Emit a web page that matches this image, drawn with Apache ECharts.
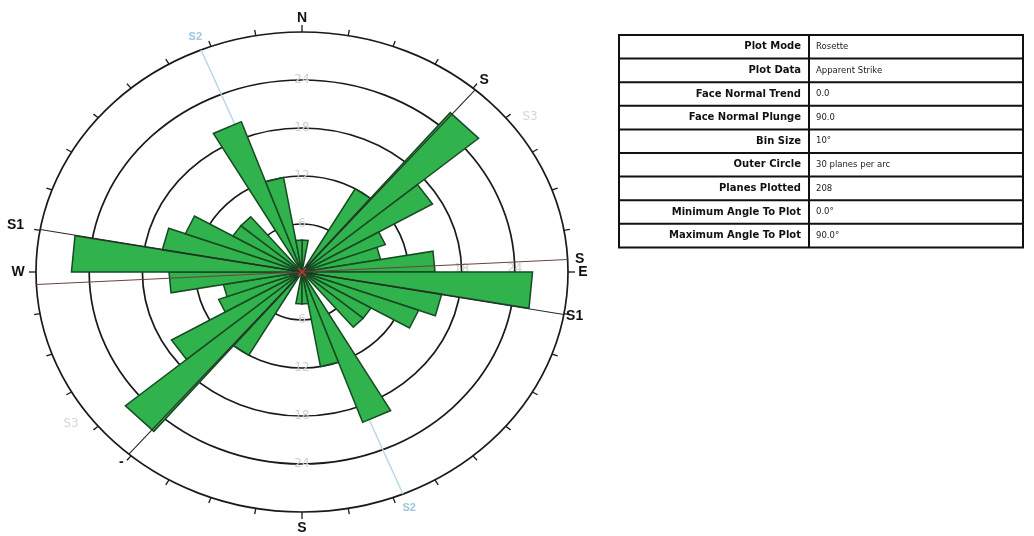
<!DOCTYPE html>
<html>
<head>
<meta charset="utf-8">
<script src="https://cdn.jsdelivr.net/npm/echarts@6/dist/echarts.min.js"></script>
<style>
  html, body { margin: 0; padding: 0; background: #ffffff; }
  #chart { width: 1034px; height: 536px; }
</style>
</head>
<body>
<div id="chart"></div>
<script>
// Rosette of apparent strike, 10° bins (each bin is mirrored 180° away)
const binStarts = [0, 10, 20, 30, 40, 50, 60, 70, 80, 90, 100, 110, 120, 130, 140, 150, 160, 170];
const binCounts = [4, 0, 0, 12, 26, 17, 10, 9, 15, 26, 16, 14, 9, 9, 0, 20, 12, 4];
const binSize = 10;

// Concentric rings (planes per arc) and the outer circle
const ringValues = [6, 12, 18, 24];
const ringLabels = ['6', '12', '18', '24'];
const outerValue = 30;

// Compass labels
const compassBearings = [0, 90, 180, 270];
const compassLabels = ['N', 'E', 'S', 'W'];

// Set traces through the centre: bearing, label at each end
const setBearings = [100.2, 87, 40.6, 337.7];
const setEndLabels = [['S1', 'S1'], ['S', ''], ['S', '-'], ['S2', 'S2']];

// Faint set names
const faintSetNames = ['S3', 'S3'];
const faintSetBearings = [53, 234];
const faintSetRadius = 32.2;

// Parameters table
const tableLabels = ['Plot Mode', 'Plot Data', 'Face Normal Trend', 'Face Normal Plunge', 'Bin Size',
  'Outer Circle', 'Planes Plotted', 'Minimum Angle To Plot', 'Maximum Angle To Plot'];
const tableValues = ['Rosette', 'Apparent Strike', '0.0', '90.0', '10°',
  '30 planes per arc', '208', '0.0°', '90.0°'];

// styling of the set traces and their end labels (pixel gap beyond the circle)
const setColors = ['#2a2a2a', '#6e4040', '#2a2a2a', '#b4d6e6'];
const setLabelColors = ['#111111', '#111111', '#111111', '#9cc8de'];
const setLabelGap = [[11, 25], [12, 0], [13, 11], [14, 15]];

// bearing (clockwise from north) + radius -> x/y data coordinates
function polar(r, bearing) {
  const a = bearing * Math.PI / 180;
  return [r * Math.sin(a), r * Math.cos(a)];
}

const wedgeData = [];
binStarts.forEach((b, i) => {
  wedgeData.push([b, binCounts[i]]);
  wedgeData.push([b + 180, binCounts[i]]);
});

const tickData = [];
for (let b = 0; b < 360; b += 10) tickData.push([b]);

const ringLabelData = [];
ringValues.forEach((r, i) => {
  [0, 90, 180, 270].forEach(b => ringLabelData.push([r, b, ringLabels[i]]));
});

const ink = '#1a1a1a';
const labelFont = 'bold 14px "Liberation Sans", Arial, sans-serif';

const chart = echarts.init(document.getElementById('chart'), null, { renderer: 'canvas' });

// table graphics
const tableX = 619, tableY = 35, tableW = 404, rowH = 23.6, colX = 809;
const tableGraphics = [];
tableGraphics.push({
  type: 'rect', shape: { x: tableX, y: tableY, width: tableW, height: rowH * tableLabels.length },
  style: { fill: '#ffffff', stroke: '#111', lineWidth: 2 }, z: 10
});
tableGraphics.push({
  type: 'line', shape: { x1: colX, y1: tableY, x2: colX, y2: tableY + rowH * tableLabels.length },
  style: { stroke: '#111', lineWidth: 2 }, z: 11
});
tableLabels.forEach((lab, i) => {
  const y = tableY + rowH * i;
  if (i > 0) {
    tableGraphics.push({
      type: 'line', shape: { x1: tableX, y1: y, x2: tableX + tableW, y2: y },
      style: { stroke: '#111', lineWidth: 2 }, z: 11
    });
  }
  tableGraphics.push({
    type: 'text', x: colX - 8, y: y + rowH / 2, z: 12,
    style: { text: lab, align: 'right', verticalAlign: 'middle', fill: '#111',
      font: 'bold 10px "DejaVu Sans", Verdana, sans-serif' }
  });
  tableGraphics.push({
    type: 'text', x: colX + 7, y: y + rowH / 2, z: 12,
    style: { text: tableValues[i], align: 'left', verticalAlign: 'middle', fill: '#222',
      font: '8.5px "DejaVu Sans", Verdana, sans-serif' }
  });
});

const option = {
  backgroundColor: '#ffffff',
  animation: false,
  grid: { left: 36, top: 32, width: 532, height: 480 },
  xAxis: { type: 'value', min: -outerValue, max: outerValue, show: false },
  yAxis: { type: 'value', min: -outerValue, max: outerValue, show: false },
  graphic: tableGraphics,
  series: [
    {
      // rings and outer circle
      type: 'custom', name: 'rings', z: 1, clip: false, silent: true,
      data: ringValues.concat([outerValue]).map(v => [v]),
      renderItem(params, api) {
        const r = api.value(0);
        const c = api.coord([0, 0]);
        const rx = api.coord([r, 0])[0] - c[0];
        const ry = c[1] - api.coord([0, r])[1];
        return {
          type: 'ellipse', shape: { cx: c[0], cy: c[1], rx: rx, ry: ry },
          style: { fill: null, stroke: ink, lineWidth: 1.7 }
        };
      }
    },
    {
      // ticks every 10° on the outer circle
      type: 'custom', name: 'ticks', z: 2, clip: false, silent: true,
      data: tickData,
      renderItem(params, api) {
        const b = api.value(0);
        const c = api.coord([0, 0]);
        const p = api.coord(polar(outerValue, b));
        const dx = p[0] - c[0], dy = p[1] - c[1];
        const len = Math.sqrt(dx * dx + dy * dy);
        const ext = (b % 90 === 0) ? 7 : 6;
        return {
          type: 'line',
          shape: { x1: p[0], y1: p[1], x2: p[0] + dx / len * ext, y2: p[1] + dy / len * ext },
          style: { stroke: ink, lineWidth: 1.3 }
        };
      }
    },
    {
      // faint ring values
      type: 'custom', name: 'ringLabels', z: 2, clip: false, silent: true,
      data: ringLabelData,
      renderItem(params, api) {
        const r = api.value(0), b = api.value(1);
        const p = api.coord(polar(r, b));
        return {
          type: 'text', x: p[0], y: p[1] + ((b === 90 || b === 270) ? -3 : 0),
          style: { text: ringLabelData[params.dataIndex][2], align: 'center', verticalAlign: 'middle',
            fill: '#cfcfcf', font: '12px "DejaVu Sans", sans-serif' }
        };
      }
    },
    {
      // S2 trace (under the petals)
      type: 'custom', name: 'S2', z: 3, clip: false, silent: true,
      data: [[setBearings[3]]],
      renderItem(params, api) {
        const b = api.value(0);
        const a = api.coord(polar(outerValue, b));
        const z = api.coord(polar(outerValue, b + 180));
        return {
          type: 'line', shape: { x1: a[0], y1: a[1], x2: z[0], y2: z[1] },
          style: { stroke: setColors[3], lineWidth: 1.4 }
        };
      }
    },
    {
      // rose petals
      type: 'custom', name: 'Apparent Strike', z: 5, clip: false,
      data: wedgeData,
      renderItem(params, api) {
        const b = api.value(0), n = api.value(1);
        if (!n) return null;
        return {
          type: 'polygon',
          shape: { points: [api.coord([0, 0]), api.coord(polar(n, b)), api.coord(polar(n, b + binSize))] },
          style: { fill: '#30b24c', stroke: '#174a22', lineWidth: 1.5, lineJoin: 'miter' }
        };
      }
    },
    {
      // set traces across the plot
      type: 'custom', name: 'sets', z: 7, clip: false, silent: true,
      data: [0, 1, 2].map(i => [setBearings[i], i]),
      renderItem(params, api) {
        const b = api.value(0), i = api.value(1);
        const a = api.coord(polar(outerValue, b));
        const z = api.coord(polar(outerValue, b + 180));
        return {
          type: 'line', shape: { x1: a[0], y1: a[1], x2: z[0], y2: z[1] },
          style: { stroke: setColors[i], lineWidth: 1.1 }
        };
      }
    },
    {
      // set labels at each end
      type: 'custom', name: 'setLabels', z: 8, clip: false, silent: true,
      data: [0, 1, 2, 3].map(i => [setBearings[i], i]),
      renderItem(params, api) {
        const b = api.value(0), i = api.value(1);
        const c = api.coord([0, 0]);
        const kids = [];
        [0, 1].forEach(k => {
          const txt = setEndLabels[i][k];
          if (!txt) return;
          const p = api.coord(polar(outerValue, b + k * 180));
          const dx = p[0] - c[0], dy = p[1] - c[1];
          const len = Math.sqrt(dx * dx + dy * dy);
          const g = setLabelGap[i][k];
          kids.push({
            type: 'text', x: p[0] + dx / len * g, y: p[1] + dy / len * g,
            style: { text: txt, align: 'center', verticalAlign: 'middle', fill: setLabelColors[i],
              font: i === 3 ? 'bold 11px "Liberation Sans", Arial, sans-serif' : labelFont }
          });
        });
        return { type: 'group', children: kids };
      }
    },
    {
      // faint S3 names
      type: 'custom', name: 'S3', z: 8, clip: false, silent: true,
      data: faintSetBearings.map((b, i) => [b, i]),
      renderItem(params, api) {
        const p = api.coord(polar(faintSetRadius, api.value(0)));
        return {
          type: 'text', x: p[0], y: p[1],
          style: { text: faintSetNames[api.value(1)], align: 'center', verticalAlign: 'middle',
            fill: '#d6d6d6', font: '12px "DejaVu Sans", sans-serif' }
        };
      }
    },
    {
      // compass letters
      type: 'custom', name: 'compass', z: 8, clip: false, silent: true,
      data: compassBearings.map((b, i) => [b, i]),
      renderItem(params, api) {
        const b = api.value(0), i = api.value(1);
        const c = api.coord([0, 0]);
        const p = api.coord(polar(outerValue, b));
        const dx = p[0] - c[0], dy = p[1] - c[1];
        const len = Math.sqrt(dx * dx + dy * dy);
        const g = (b === 0) ? 14 : (b === 180) ? 16 : (b === 90) ? 15 : 18;
        return {
          type: 'text', x: p[0] + dx / len * g, y: p[1] + dy / len * g,
          style: { text: compassLabels[i], align: 'center', verticalAlign: 'middle', fill: '#111', font: labelFont }
        };
      }
    },
    {
      // centre mark
      type: 'custom', name: 'centre', z: 9, clip: false, silent: true,
      data: [[0, 0]],
      renderItem(params, api) {
        const c = api.coord([0, 0]);
        const s = 4;
        return {
          type: 'group', children: [
            { type: 'line', shape: { x1: c[0] - s, y1: c[1] - s, x2: c[0] + s, y2: c[1] + s }, style: { stroke: '#d0303a', lineWidth: 1.4 } },
            { type: 'line', shape: { x1: c[0] - s, y1: c[1] + s, x2: c[0] + s, y2: c[1] - s }, style: { stroke: '#d0303a', lineWidth: 1.4 } }
          ]
        };
      }
    }
  ]
};

chart.setOption(option);
</script>
</body>
</html>
